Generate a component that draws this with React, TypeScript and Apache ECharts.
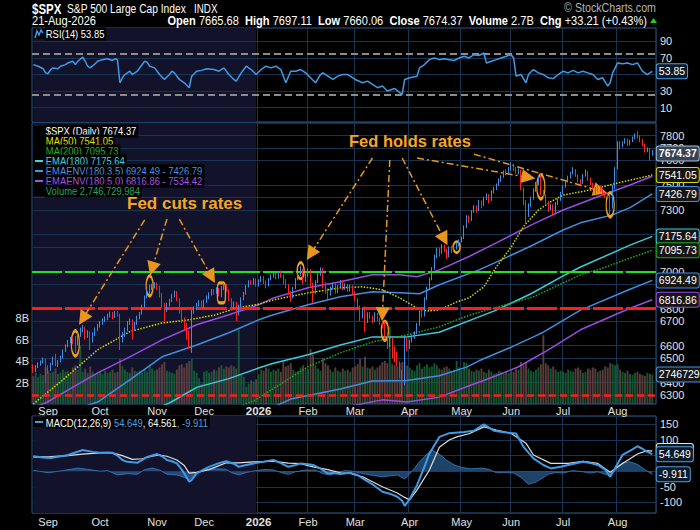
import React, { useEffect, useRef } from 'react';
import * as echarts from 'echarts';

const SANS = "'Liberation Sans',Arial,sans-serif";
const SQUEEZE = 0.82;
const GRID = '#1a3350';
const BORDER = '#2c5a88';
const LBL = '#e0e0e0';
const SHADE = '#12122b';
const ORANGE = '#f5a623';
const AX_FONT = 11;
const TAG_FONT = 10.5;

// ---------- categories ----------
const holidays = ['2025-09-01', '2025-11-27', '2025-12-25', '2026-01-01', '2026-01-19', '2026-02-16', '2026-04-03', '2026-05-25', '2026-06-19', '2026-07-03'];
const monthNames = ['Jan', 'Feb', 'Mar', 'Apr', 'May', 'Jun', 'Jul', 'Aug', 'Sep', 'Oct', 'Nov', 'Dec'];

function buildDays(): string[] {
  const out: string[] = [];
  const d = new Date(Date.UTC(2025, 7, 22));
  const end = Date.UTC(2026, 7, 21);
  while (d.getTime() <= end) {
    const wd = d.getUTCDay();
    const s = d.toISOString().slice(0, 10);
    if (wd !== 0 && wd !== 6 && holidays.indexOf(s) < 0) out.push(s);
    d.setUTCDate(d.getUTCDate() + 1);
  }
  return out;
}

// ---------- candles [open, close, low, high] ----------
const candlesAug25 = [[6460,6440,6425,6470],[6440,6455,6430,6465],[6455,6470,6450,6480],[6470,6482,6462,6490],[6480,6498,6475,6505],[6495,6455,6370,6500]];
const candlesSep25 = [[6450,6440,6420,6465],[6440,6470,6435,6478],[6475,6500,6465,6510],[6510,6470,6460,6525],[6470,6480,6455,6492],[6485,6505,6480,6515],[6505,6540,6500,6548],[6540,6565,6535,6575],[6565,6590,6560,6598],[6590,6605,6580,6615],[6605,6585,6575,6615],[6585,6570,6530,6620],[6575,6625,6570,6635],[6625,6655,6615,6665],[6655,6665,6640,6680],[6665,6620,6600,6670],[6620,6640,6610,6650],[6640,6590,6545,6645],[6590,6630,6585,6640],[6630,6655,6620,6665],[6655,6675,6645,6685]];
const candlesOct25 = [[6675,6690,6665,6700],[6690,6705,6680,6715],[6705,6715,6695,6725],[6715,6730,6705,6740],[6730,6745,6720,6752],[6745,6722,6710,6750],[6722,6748,6718,6756],[6748,6735,6725,6755],[6735,6600,6545,6740],[6600,6625,6585,6640],[6625,6655,6615,6665],[6655,6690,6645,6700],[6690,6705,6680,6715],[6705,6660,6600,6710],[6660,6685,6650,6695],[6685,6720,6680,6730],[6720,6742,6710,6750],[6742,6780,6735,6790],[6780,6830,6775,6840],[6830,6868,6825,6878],[6868,6882,6850,6900],[6882,6890,6870,6905],[6890,6905,6880,6915]];
const candlesNov25 = [[6905,6890,6870,6912],[6890,6850,6830,6895],[6850,6790,6770,6855],[6790,6760,6700,6800],[6760,6790,6750,6800],[6790,6812,6780,6822],[6812,6840,6805,6850],[6840,6858,6830,6868],[6858,6820,6810,6865],[6820,6760,6740,6825],[6760,6700,6690,6770],[6700,6680,6650,6720],[6680,6640,6600,6690],[6640,6600,6550,6650],[6580,6750,6530,6760],[6750,6770,6740,6780],[6770,6790,6760,6800],[6790,6805,6780,6815],[6805,6775,6765,6812]];
const candlesDec25 = [[6775,6810,6770,6818],[6810,6830,6800,6840],[6830,6850,6820,6858],[6850,6868,6840,6876],[6868,6858,6845,6875],[6858,6878,6850,6886],[6878,6848,6835,6882],[6848,6880,6830,6892],[6880,6900,6870,6910],[6900,6870,6860,6905],[6870,6820,6810,6875],[6820,6780,6770,6825],[6780,6800,6765,6808],[6800,6740,6700,6805],[6740,6780,6730,6790],[6780,6822,6775,6830],[6822,6852,6815,6860],[6852,6890,6845,6898],[6890,6918,6885,6925],[6918,6908,6900,6926],[6908,6930,6900,6938],[6930,6900,6890,6935]];
const candlesJan26 = [[6900,6922,6890,6930],[6922,6942,6915,6950],[6942,6918,6905,6948],[6918,6898,6880,6925],[6898,6930,6890,6938],[6930,6950,6925,6958],[6950,6962,6940,6972],[6962,6940,6930,6968],[6940,6970,6935,6978],[6970,6952,6940,6980],[6952,6928,6900,6958],[6928,6900,6880,6932],[6900,6860,6845,6905],[6860,6830,6805,6865],[6830,6880,6825,6888],[6880,6930,6875,6938],[6930,6960,6925,6970],[6960,6985,6950,7005],[6985,6925,6905,6990],[6925,6952,6915,6962]];
const candlesFeb26 = [[6952,6982,6945,6992],[6982,6905,6890,6988],[6905,6860,6800,6910],[6860,6918,6850,6925],[6918,6958,6910,6965],[6958,6990,6950,6998],[6990,6905,6880,6995],[6905,6872,6850,6915],[6872,6850,6820,6880],[6850,6882,6840,6890],[6882,6902,6875,6912],[6902,6862,6850,6908],[6862,6890,6855,6898],[6890,6920,6885,6928],[6920,6880,6870,6925],[6880,6900,6872,6908],[6900,6870,6860,6905],[6870,6892,6862,6900],[6892,6860,6845,6898]];
const candlesMar26 = [[6860,6820,6810,6865],[6820,6780,6770,6825],[6780,6720,6700,6785],[6720,6760,6715,6768],[6760,6700,6640,6780],[6700,6740,6690,6748],[6740,6722,6710,6750],[6722,6702,6690,6730],[6702,6740,6695,6748],[6740,6712,6700,6745],[6712,6692,6680,6720],[6692,6680,6660,6700],[6690,6630,6610,6698],[6630,6580,6550,6640],[6580,6605,6560,6615],[6605,6560,6500,6610],[6560,6520,6480,6565],[6530,6480,6460,6535],[6480,6430,6400,6485],[6430,6340,6300,6440],[6370,6600,6360,6610],[6600,6560,6540,6615]];
const candlesApr26 = [[6560,6592,6550,6600],[6592,6620,6585,6628],[6620,6635,6605,6645],[6635,6680,6630,6690],[6680,6750,6675,6758],[6750,6730,6720,6762],[6730,6820,6725,6830],[6820,6880,6815,6890],[6880,6930,6870,6940],[6930,6990,6925,7000],[6990,7060,6985,7070],[7060,7100,7050,7110],[7100,7080,7060,7112],[7080,7120,7075,7130],[7120,7100,7085,7128],[7100,7060,7045,7105],[7060,7110,7055,7118],[7110,7090,7080,7120],[7090,7110,7085,7118],[7110,7125,7100,7140],[7125,7150,7118,7158]];
const candlesMay26 = [[7150,7165,7140,7175],[7165,7230,7160,7240],[7230,7290,7225,7300],[7290,7270,7255,7298],[7270,7320,7265,7330],[7320,7350,7315,7360],[7350,7330,7315,7358],[7330,7380,7325,7390],[7380,7360,7340,7388],[7360,7400,7355,7410],[7400,7420,7390,7430],[7420,7390,7370,7425],[7390,7440,7385,7450],[7440,7460,7430,7470],[7460,7482,7450,7490],[7482,7510,7475,7520],[7510,7530,7500,7540],[7530,7562,7525,7570],[7562,7550,7540,7575],[7550,7580,7545,7590]];
const candlesJun26 = [[7580,7600,7570,7618],[7600,7580,7565,7610],[7580,7562,7550,7590],[7562,7572,7545,7582],[7570,7460,7450,7575],[7460,7380,7360,7465],[7380,7300,7250,7390],[7300,7360,7290,7370],[7360,7400,7350,7410],[7400,7450,7392,7460],[7450,7490,7440,7500],[7490,7530,7480,7540],[7530,7440,7420,7545],[7440,7420,7400,7450],[7420,7380,7360,7425],[7380,7340,7320,7385],[7340,7360,7330,7368],[7360,7320,7300,7365],[7320,7370,7315,7378],[7370,7392,7360,7400],[7392,7430,7385,7440]];
const candlesJul26 = [[7430,7470,7425,7478],[7470,7500,7465,7508],[7500,7530,7495,7538],[7530,7552,7520,7560],[7552,7572,7545,7590],[7572,7540,7530,7578],[7540,7510,7495,7545],[7510,7492,7480,7518],[7492,7540,7488,7548],[7540,7562,7532,7575],[7562,7520,7505,7568],[7520,7490,7480,7526],[7490,7462,7450,7495],[7462,7440,7425,7468],[7440,7470,7435,7478],[7470,7450,7440,7476],[7450,7430,7420,7455],[7430,7420,7405,7438],[7420,7410,7395,7430],[7420,7340,7300,7425],[7350,7470,7340,7480],[7460,7580,7455,7590]];
const candlesAug26 = [[7580,7740,7575,7750],[7740,7720,7700,7752],[7720,7742,7712,7750],[7742,7762,7735,7770],[7762,7730,7720,7768],[7730,7752,7725,7760],[7752,7772,7745,7780],[7772,7792,7765,7800],[7792,7780,7770,7815],[7780,7760,7745,7788],[7760,7730,7720,7765],[7730,7690,7680,7735],[7690,7702,7682,7712],[7702,7641.16,7630,7708],[7665.68,7674.37,7660.06,7697.11]];

// ---------- volume (billions) ----------
const volAug25 = [2.6,2.9,2.5,2.8,2.7,3.4];
const volSep25 = [3.1,2.9,3.0,3.3,2.8,2.9,3.2,3.0,3.1,2.9,3.4,3.6,3.2,5.4,3.0,3.3,2.9,3.5,3.0,2.8,2.9];
const volOct25 = [3.0,2.8,3.1,2.9,3.0,3.2,2.9,3.0,4.2,3.5,3.2,3.0,2.9,3.4,3.1,3.0,3.1,2.9,3.2,3.0,3.6,3.3,3.1];
const volNov25 = [3.2,3.4,3.7,3.9,3.1,3.0,2.9,2.8,3.2,3.6,3.7,3.4,3.8,4.0,4.2,3.1,2.9,2.4,1.9];
const volDec25 = [3.0,3.1,2.9,3.0,3.2,3.1,3.4,3.6,3.3,3.5,3.4,3.6,3.5,3.3,6.9,2.7,2.5,1.6,1.9,2.2,2.1,2.3];
const volJan26 = [2.8,3.2,3.1,3.4,3.3,3.0,3.2,3.1,3.3,3.0,4.1,3.5,3.6,3.8,3.2,3.0,3.1,3.4,3.6,3.2];
const volFeb26 = [3.3,5.1,4.6,3.6,3.3,3.1,4.3,3.8,3.6,3.2,3.0,3.4,3.1,3.0,3.3,3.1,3.2,3.0,3.4];
const volMar26 = [3.5,3.7,4.2,3.5,4.4,3.4,3.3,3.5,3.2,3.4,3.6,3.9,4.0,3.8,7.2,3.7,3.6,3.5,3.8,3.9,3.9,3.6];
const volApr26 = [3.4,3.2,3.1,3.6,3.8,3.3,3.5,3.7,3.4,3.5,3.8,3.6,3.3,3.2,3.4,3.5,3.3,3.1,3.2,4.0,3.4];
const volMay26 = [3.2,3.9,3.8,3.3,3.1,3.0,3.2,3.1,3.3,3.0,2.9,3.2,3.0,2.8,2.9,3.1,3.0,2.8,3.0,2.9];
const volJun26 = [3.1,3.0,3.3,3.2,3.9,3.6,3.8,3.3,3.1,3.0,3.2,3.4,3.7,6.4,3.8,3.6,3.3,3.5,3.2,3.0,3.1];
const volJul26 = [3.0,2.9,3.2,3.1,3.0,3.3,3.4,3.2,2.9,3.0,3.3,3.2,3.4,3.3,3.0,3.1,3.2,3.5,3.4,3.8,3.7,3.6];
const volAug26 = [3.7,3.2,3.0,2.9,3.1,2.8,2.7,2.9,3.0,2.8,2.7,2.6,2.9,2.8,2.746729984];

// ---------- overlays: [dayIndex, price] ----------
const ma50 = [[0,6265],[12,6389],[26,6546],[39,6643],[52,6690],[63,6707],[74,6735],[82,6772],[90,6789],[97,6816],[111,6855],[124,6883],[133,6889],[141,6872],[148,6827],[155,6772],[159,6755],[164,6761],[171,6805],[176,6827],[182,6889],[187,7000],[193,7114],[198,7233],[204,7331],[209,7380],[214,7420],[225,7451],[236,7493],[241,7510],[250,7541.05]];
const ma200 = [[0,5900],[40,6060],[89,6280],[111,6457],[124,6530],[137,6588],[151,6626],[164,6669],[171,6707],[178,6740],[202,6833],[222,6962],[228,6984],[241,7051],[250,7095.73]];
const ema180 = [[0,5960],[26,6110],[39,6195],[55,6270],[66,6350],[79,6395],[91,6450],[97,6475],[111,6520],[124,6572],[137,6615],[151,6615],[164,6640],[180,6723],[187,6760],[201,6850],[214,6950],[221,7000],[241,7125],[250,7175.64]];
const env35Upper = [[0,6170],[26,6275],[39,6389],[52,6509],[66,6572],[79,6637],[83,6660],[91,6707],[97,6735],[111,6789],[124,6833],[137,6861],[148,6855],[156,6850],[164,6900],[180,6984],[187,7028],[201,7120],[214,7213],[221,7255],[234,7302],[241,7345],[250,7426.79]];
const env35Lower = [[0,5750],[83,6170],[104,6290],[124,6342],[137,6383],[151,6385],[164,6410],[175,6455],[180,6488],[193,6560],[202,6615],[206,6640],[221,6760],[241,6875],[250,6924.49]];
const env50Upper = [[0,6250],[5,6270],[26,6425],[39,6509],[52,6599],[66,6680],[79,6735],[91,6789],[97,6827],[111,6883],[124,6917],[137,6956],[148,6956],[155,6945],[164,6984],[176,7060],[187,7138],[201,7242],[214,7331],[228,7410],[241,7481],[250,7534.42]];
const env50Lower = [[0,5660],[91,6130],[124,6245],[141,6286],[151,6275],[164,6300],[175,6353],[187,6410],[196,6457],[208,6546],[221,6653],[241,6770],[250,6816.86]];

// ---------- RSI(14) ----------
const rsi14 = [[0,62],[2,60],[4,57],[5,52],[6,51],[7,56],[8,58],[10,57],[11,60],[13,62],[14,64],[16,66],[17,62],[18,66],[20,71],[21,66],[22,60],[23,58],[25,63],[26,66],[28,68],[30,69],[32,67],[33,69],[34,68],[35,40],[36,46],[37,50],[39,54],[40,50],[42,54],[45,66],[46,65],[47,60],[49,58],[51,50],[53,44],[55,50],[56,54],[57,52],[59,44],[61,40],[63,34],[64,48],[66,54],[68,55],[70,57],[73,56],[75,54],[77,58],[79,50],[81,44],[82,42],[84,52],[86,60],[88,56],[90,50],[92,56],[94,60],[96,58],[98,60],[100,56],[102,40],[104,54],[106,54],[108,56],[110,52],[112,46],[114,40],[116,50],[117,52],[119,48],[121,44],[123,48],[125,50],[127,50],[128,48],[130,44],[133,40],[135,42],[137,38],[139,34],[141,36],[143,30],[146,33],[148,28],[149,26],[150,44],[152,46],[155,48],[156,58],[158,62],[160,68],[162,70],[164,68],[166,69],[168,68],[170,67],[172,70],[174,72],[176,70],[178,74],[180,73],[182,76],[183,64],[185,66],[187,68],[189,70],[191,72],[193,74],[194,70],[195,48],[197,50],[199,40],[200,50],[202,56],[204,52],[206,50],[208,46],[210,45],[212,50],[214,54],[216,52],[218,55],[220,52],[222,54],[224,52],[226,50],[228,44],[230,46],[232,36],[233,40],[234,52],[236,64],[238,63],[240,64],[242,62],[244,64],[246,54],[248,50],[249,52],[250,53.85]];

// ---------- MACD(12,26,9) ----------
const macdLine = [[0,48],[4,44],[7,42],[10,46],[14,52],[17,60],[20,68],[24,62],[27,59],[30,60],[32,59],[34,50],[36,36],[38,30],[42,27],[44,36],[46,46],[50,55],[52,48],[54,36],[56,32],[58,25],[60,5],[62,-20],[63,-34],[64,-28],[66,-7],[68,2],[71,14],[75,26],[78,32],[81,24],[83,14],[86,20],[89,25],[93,30],[97,36],[100,26],[103,14],[106,20],[108,25],[111,22],[113,20],[116,8],[119,-7],[121,-6],[124,-9],[128,-5],[131,-12],[133,-23],[137,-42],[141,-66],[144,-72],[147,-82],[149,-95],[150,-111],[152,-90],[155,-45],[158,15],[160,57],[164,110],[168,122],[174,126],[178,130],[182,150],[186,130],[191,124],[195,121],[198,78],[202,41],[206,20],[209,9],[213,14],[216,20],[222,30],[225,26],[228,20],[231,5],[233,-18],[235,10],[238,52],[242,70],[244,80],[246,72],[248,62],[250,54.649]];
const macdSignal = [[0,45],[7,47],[14,50],[20,55],[27,59],[32,59],[36,50],[40,38],[44,40],[48,48],[51,52],[54,48],[58,36],[61,18],[63,-6],[66,-4],[71,5],[75,18],[78,27],[83,27],[89,30],[97,32],[103,26],[108,24],[113,14],[119,5],[124,-5],[128,-7],[133,-18],[141,-50],[147,-70],[150,-84],[152,-92],[155,-60],[160,4],[164,77],[168,100],[171,110],[176,120],[182,142],[187,132],[193,121],[199,90],[202,52],[209,25],[216,25],[222,32],[228,25],[233,-3],[238,25],[244,55],[248,66],[250,64.561]];
const macdHist = [[0,3],[6,-5],[12,2],[18,10],[22,6],[27,0],[30,2],[34,-12],[38,-8],[42,-10],[45,5],[48,10],[51,4],[54,-10],[58,-12],[61,-20],[63,-28],[65,-10],[67,-4],[70,6],[74,8],[78,6],[80,-5],[83,-12],[86,-4],[90,2],[94,6],[97,4],[100,-4],[103,-10],[106,-2],[110,4],[114,4],[117,-8],[120,-12],[123,-4],[126,2],[129,0],[132,-6],[136,-12],[141,-18],[144,-15],[147,-12],[150,-25],[153,0],[156,30],[159,55],[161,68],[164,55],[167,35],[170,20],[173,12],[177,8],[181,10],[184,6],[187,-5],[190,-4],[194,-6],[197,-20],[200,-42],[203,-35],[206,-20],[208,-10],[211,-4],[214,-6],[218,2],[222,-2],[225,-6],[228,-2],[231,-10],[233,-14],[235,10],[238,28],[241,30],[244,22],[247,5],[250,-9.911]];

// ---------- axis ticks / levels ----------
const priceTicks = [6300,6400,6500,6600,6700,6800,6900,7000,7100,7200,7300,7400,7500,7600,7700,7800];
const rsiTicks = [10,30,50,70,90];
const rsiBands = [75,25];
const userLevels = [7000,6800,6337];

// ---------- annotations ----------
const fedDays = [17,47,76,108,142,171,205,233];
const fedPrices = [6580,6894,6855,6979,6648,7114,7469,7361];
const arrowFrom = [[45,7272],[54,7277],[59,7277],[137,7646],[144,7634],[149,7646],[155,7646],[178,7670]];
const arrowTo = [[20,6713],[48,6990],[72,6945],[112,7074],[141,6737],[166,7160],[200,7527],[229,7445]];

function buildOption(): any {
  const days = buildDays();
  const cats = [...days, ''];
  const monthStart = days.map((d, i) => i > 0 && d.slice(5, 7) !== days[i - 1].slice(5, 7));
  const isTick = (i: number) => !!monthStart[i];
  const last2025 = days.filter((d) => d < '2026').length - 1;
  const candles = [...candlesAug25, ...candlesSep25, ...candlesOct25, ...candlesNov25, ...candlesDec25, ...candlesJan26, ...candlesFeb26, ...candlesMar26, ...candlesApr26, ...candlesMay26, ...candlesJun26, ...candlesJul26, ...candlesAug26];
  const volumes = [...volAug25, ...volSep25, ...volOct25, ...volNov25, ...volDec25, ...volJan26, ...volFeb26, ...volMar26, ...volApr26, ...volMay26, ...volJun26, ...volJul26, ...volAug26];
  const last = candles.length - 1;
  const lastDay = days[last];
  const L = Math.log;
  const lastOf = (a: number[][]) => a[a.length - 1][1];
  const closeLast = candles[last][1];
  const volLast = volumes[last];

  const tag = (y: number, text: string, border: string, bold = false, bg = '#161616') => ({
    coord: [lastDay, y],
    symbol: 'rect',
    symbolSize: 1,
    itemStyle: { color: 'rgba(0,0,0,0)' },
    label: {
      show: true, position: 'right', distance: 4, formatter: text, color: '#ffffff',
      fontSize: TAG_FONT, fontWeight: bold ? 'bold' : 'normal', fontFamily: SANS,
      backgroundColor: bg, borderColor: border, borderWidth: 1, borderRadius: 2, padding: [2, 2, 1, 2],
    },
  });

  const fmtMonth = (value: string) => {
    if (!value) return '';
    const m = +value.slice(5, 7);
    return m === 1 ? '{b|' + value.slice(0, 4) + '}' : monthNames[m - 1];
  };

  const xAxisFor = (gi: number, show: boolean, margin: number) => ({
    type: 'category', gridIndex: gi, data: cats, boundaryGap: true,
    axisLine: { show: false }, axisTick: { show: false },
    axisLabel: {
      show, interval: (i: number) => isTick(i), formatter: fmtMonth, color: LBL, fontSize: AX_FONT,
      fontFamily: SANS, margin,
      rich: { b: { fontWeight: 'bold', color: LBL, fontSize: AX_FONT + 0.5, fontFamily: SANS } },
    },
    splitLine: { show: true, interval: (i: number) => isTick(i), lineStyle: { color: GRID, width: 1 } },
  });

  const gridBox = (top: number, height: number) => ({
    left: 32, right: 44, top, height, show: true, backgroundColor: '#000', borderColor: BORDER, borderWidth: 1,
    containLabel: false, outerBoundsMode: 'none',
  });

  const shade = { silent: true, itemStyle: { color: SHADE }, data: [[{ xAxis: days[0] }, { xAxis: days[last2025] }]] };

  const pricePts = (a: number[][]) => a.map(([i, v]) => [days[i], L(v)]);
  const plainPts = (a: number[][]) => a.map(([i, v]) => [days[i], v]);

  const overlay = (data: number[][], color: string, width: number, type: any, tagBorder?: string) => ({
    type: 'line', xAxisIndex: 1, yAxisIndex: 1, data: pricePts(data), symbol: 'none', silent: true, z: 4,
    lineStyle: { color, width, type },
    markPoint: tagBorder ? { silent: true, data: [tag(L(lastOf(data)), lastOf(data).toFixed(2), tagBorder)] } : undefined,
  });

  const tickLine = (y: number, text: string) => ({
    yAxis: y,
    lineStyle: { color: GRID, width: 1, type: 'solid' },
    label: { show: true, position: 'end', formatter: text, color: LBL, fontSize: AX_FONT, fontFamily: SANS, distance: 4 },
  });

  const closes = candles.map((c, i) => [days[i], L(c[1])]);

  const fedMarkSize = [[8, 25], [7, 20], [8, 20], [7, 16], [7, 19], [7, 11], [8, 24], [8, 24]];

  const series: any[] = [
    // RSI panel
    {
      type: 'line', xAxisIndex: 0, yAxisIndex: 0, data: plainPts(rsi14), symbol: 'none', silent: true, z: 3,
      lineStyle: { color: '#3f9be6', width: 1.5 },
      markArea: shade,
      markLine: {
        silent: true, symbol: 'none', z: 1,
        data: [
          ...rsiTicks.map((v) => tickLine(v, String(v))),
          ...rsiBands.map((v) => ({ yAxis: v, lineStyle: { color: '#8c8c8c', width: 2, type: [7, 4] }, label: { show: false } })),
        ],
      },
      markPoint: { silent: true, data: [tag(lastOf(rsi14), lastOf(rsi14).toFixed(2), '#4aa0e6', false, '#0c1a28')] },
    },
    // main panel: grid ticks and shading
    {
      type: 'line', xAxisIndex: 1, yAxisIndex: 1, data: closes, symbol: 'none', silent: true, z: 1,
      lineStyle: { opacity: 0 },
      markArea: shade,
      markLine: {
        silent: true, symbol: 'none', z: 1,
        data: priceTicks.map((v) => tickLine(L(v), String(v))),
      },
    },
    // volume
    {
      type: 'bar', xAxisIndex: 1, yAxisIndex: 2, barWidth: '78%', silent: true, z: 2,
      data: volumes.map((v, i) => ({
        value: [days[i], v],
        itemStyle: {
          color: candles[i][1] >= candles[i][0] ? 'rgba(22,100,58,0.85)' : 'rgba(98,66,66,0.9)',
        },
      })),
      markPoint: { silent: true, data: [tag(volLast, String(Math.round(volLast * 1e9)), '#4a90e0')] },
    },
    // user horizontal levels
    {
      type: 'line', xAxisIndex: 1, yAxisIndex: 1, data: closes, symbol: 'none', silent: true, z: 3,
      lineStyle: { opacity: 0 },
      markLine: {
        silent: true, symbol: 'none',
        data: [
          { yAxis: L(userLevels[0]), lineStyle: { color: '#22e022', width: 2, type: [30, 3] }, label: { show: false } },
          { yAxis: L(userLevels[1]), lineStyle: { color: '#ff1c1c', width: 3, type: [30, 3] }, label: { show: false } },
          { yAxis: L(userLevels[2]), lineStyle: { color: '#ff1c1c', width: 2.5, type: [7, 4] }, label: { show: false } },
        ],
      },
    },
    overlay(env50Lower, '#9a4be0', 1.5, 'solid', '#9a4be0'),
    overlay(env50Upper, '#9a4be0', 1.5, 'solid'),
    overlay(env35Lower, '#3f8ee0', 1.5, 'solid', '#3f8ee0'),
    overlay(env35Upper, '#3f8ee0', 1.5, 'solid', '#3f8ee0'),
    overlay(ema180, '#3ccbd8', 1.5, 'solid', '#3ccbd8'),
    overlay(ma200, '#1faa1f', 1.5, 'dotted', '#1faa1f'),
    overlay(ma50, '#d8d800', 1.5, 'dotted', '#d8d800'),
    // candles
    {
      type: 'candlestick', xAxisIndex: 1, yAxisIndex: 1, silent: true, z: 5, barMaxWidth: 3,
      data: candles.map((c) => c.map((v) => L(v))),
      itemStyle: { color: '#050505', color0: '#ff2222', borderColor: '#3d8fe6', borderColor0: '#ff2222', borderWidth: 1 },
    },
    // annotations + close tag
    {
      type: 'line', xAxisIndex: 1, yAxisIndex: 1, data: closes, symbol: 'none', silent: true, z: 6,
      lineStyle: { opacity: 0 },
      markLine: {
        silent: true, symbol: ['none', 'triangle'], symbolSize: 14,
        label: { show: false },
        lineStyle: { color: '#e8961e', width: 1.5, type: [7, 3, 2, 3] },
        data: arrowFrom.map((f, k) => [
          { coord: [days[f[0]], L(f[1])] },
          { coord: [days[arrowTo[k][0]], L(arrowTo[k][1])], itemStyle: { color: ORANGE } },
        ]),
      },
      markPoint: {
        silent: true,
        data: [
          ...fedDays.map((d, k) => ({
            coord: [days[d], L(fedPrices[k])],
            symbol: k === 2 ? 'roundRect' : 'circle',
            symbolSize: fedMarkSize[k],
            itemStyle: { color: 'rgba(0,0,0,0)', borderColor: '#f0a020', borderWidth: 2 },
            label: { show: false },
          })),
          tag(L(closeLast), closeLast.toFixed(2), '#9fc3e6', true, '#39424e'),
        ],
      },
    },
    // MACD panel
    {
      type: 'line', xAxisIndex: 2, yAxisIndex: 3, data: plainPts(macdHist), symbol: 'none', silent: true, z: 2,
      lineStyle: { color: '#3a7cc0', width: 0.8 },
      areaStyle: { color: 'rgba(50,112,176,0.85)' },
      markArea: shade,
      markPoint: { silent: true, data: [tag(lastOf(macdHist), lastOf(macdHist).toFixed(3), '#4aa0e6', false, '#0c1a28')] },
    },
    {
      type: 'line', xAxisIndex: 2, yAxisIndex: 3, data: plainPts(macdSignal), symbol: 'none', silent: true, z: 3,
      lineStyle: { color: '#dddddd', width: 1.2 },
      markPoint: { silent: true, data: [tag(lastOf(macdSignal), lastOf(macdSignal).toFixed(3), '#e0e0e0')] },
    },
    {
      type: 'line', xAxisIndex: 2, yAxisIndex: 3, data: plainPts(macdLine), symbol: 'none', silent: true, z: 4,
      lineStyle: { color: '#3f9be6', width: 2 },
      markPoint: { silent: true, data: [tag(lastOf(macdLine), lastOf(macdLine).toFixed(3), '#4aa0e6', false, '#0c1a28')] },
    },
  ];

  // ---------- graphic texts (horizontally squeezed to imitate the narrow face) ----------
  const txt = (x: number, y: number, text: string, fill: string, size: number, extra: any = {}) => ({
    type: 'text', x, y, scaleX: SQUEEZE, silent: true, z: 100,
    style: {
      text, fill, fontSize: size, fontFamily: SANS, textVerticalAlign: 'middle', verticalAlign: 'middle',
      textAlign: extra.align || 'left', align: extra.align || 'left', ...extra.style,
    },
  });
  const legendTxt = (y: number, text: string, fill: string) =>
    txt(45, y, text, fill, 11.5, { style: { backgroundColor: '#000', padding: [1, 2, 0, 1] } });
  const legBox = (y: number) => ({ type: 'rect', silent: true, z: 99, shape: { x: 33, y: y - 5, width: 12, height: 10 }, style: { fill: '#000' } });
  const icoLine = (y: number, color: string) => ({ type: 'line', silent: true, z: 101, shape: { x1: 35, y1: y, x2: 43, y2: y }, style: { stroke: color, lineWidth: 2 } });
  const icoDots = (y: number, color: string) => ({
    type: 'group', silent: true, z: 101,
    children: [
      { type: 'rect', shape: { x: 36, y: y - 1, width: 2, height: 2 }, style: { fill: color } },
      { type: 'rect', shape: { x: 40, y: y - 1, width: 2, height: 2 }, style: { fill: color } },
    ],
  });

  const volText = Math.round(volLast * 1e9).toLocaleString('en-US');
  const graphic: any[] = [
    txt(32, 9, '$SPX', '#ffffff', 14, { style: { fontWeight: 'bold' } }),
    txt(67, 9, 'S&P 500 Large Cap Index', '#ffffff', 12.5),
    txt(194, 9, 'INDX', '#ffffff', 12),
    txt(32, 21, '21-Aug-2026', '#ffffff', 13.5),
    txt(647, 21, '{b|Open} 7665.68  {b|High} 7697.11  {b|Low} 7660.06  {b|Close} 7674.37  {b|Volume} 2.7B  {b|Chg} +33.21 (+0.43%)', '#ffffff', 13.5, {
      align: 'right',
      style: { rich: { b: { fontWeight: 'bold', fontSize: 13.5, fontFamily: SANS, fill: '#ffffff', color: '#ffffff' } } },
    }),
    { type: 'polygon', silent: true, z: 100, shape: { points: [[650, 23], [657, 23], [653.5, 18]] }, style: { fill: '#22cc22' } },
    txt(656, 8, '\u00A9 StockCharts.com', '#b4b4b4', 13, { align: 'right' }),

    // RSI legend
    legBox(34),
    { type: 'polyline', silent: true, z: 101, shape: { points: [[35, 38], [37, 31], [39, 35], [41, 30], [43, 33]] }, style: { stroke: '#3f9be6', lineWidth: 1.5, fill: 'none' } },
    legendTxt(34, 'RSI(14) ' + lastOf(rsi14).toFixed(2), '#ffffff'),

    // main legend
    legBox(131),
    { type: 'group', silent: true, z: 101, children: [
      { type: 'rect', shape: { x: 35, y: 128, width: 2, height: 6 }, style: { fill: '#3d8fe6' } },
      { type: 'rect', shape: { x: 38, y: 127, width: 2, height: 6 }, style: { fill: '#3d8fe6' } },
      { type: 'rect', shape: { x: 41, y: 129, width: 2, height: 6 }, style: { fill: '#3d8fe6' } },
    ] },
    legendTxt(131, '$SPX (Daily) ' + closeLast.toFixed(2), '#ffffff'),
    legBox(141), icoDots(141, '#e0e000'),
    legendTxt(141, 'MA(50) ' + lastOf(ma50).toFixed(2), '#e0e000'),
    legBox(151), icoDots(151, '#25b025'),
    legendTxt(151, 'MA(200) ' + lastOf(ma200).toFixed(2), '#25b025'),
    legBox(161), icoLine(161, '#45d0e0'),
    legendTxt(161, 'EMA(180) ' + lastOf(ema180).toFixed(2), '#45d0e0'),
    legBox(171), icoLine(171, '#4a90e0'),
    legendTxt(171, 'EMAENV(180,3.5) ' + lastOf(env35Lower).toFixed(2) + ' - ' + lastOf(env35Upper).toFixed(2), '#4a90e0'),
    legBox(181), icoLine(181, '#a055e8'),
    legendTxt(181, 'EMAENV(180,5.0) ' + lastOf(env50Lower).toFixed(2) + ' - ' + lastOf(env50Upper).toFixed(2), '#a055e8'),
    legBox(191),
    { type: 'group', silent: true, z: 101, children: [
      { type: 'rect', shape: { x: 35, y: 189, width: 2, height: 5 }, style: { fill: '#25a060' } },
      { type: 'rect', shape: { x: 38, y: 186, width: 2, height: 8 }, style: { fill: '#25a060' } },
      { type: 'rect', shape: { x: 41, y: 188, width: 2, height: 6 }, style: { fill: '#25a060' } },
    ] },
    legendTxt(191, 'Volume ' + volText, '#25a060'),

    // MACD legend
    legBox(422), icoLine(422, '#3f9be6'),
    txt(45, 422, '{w|MACD(12,26,9)} {c|' + lastOf(macdLine).toFixed(3) + '}{w|, ' + lastOf(macdSignal).toFixed(3) + '}{c|, ' + lastOf(macdHist).toFixed(3) + '}', '#ffffff', 11.5, {
      style: {
        backgroundColor: '#000', padding: [1, 2, 0, 1],
        rich: {
          w: { fill: '#ffffff', color: '#ffffff', fontSize: 11.5, fontFamily: SANS },
          c: { fill: '#4aa0e6', color: '#4aa0e6', fontSize: 11.5, fontFamily: SANS },
        },
      },
    }),

    // annotation titles
    { type: 'text', x: 127, y: 203, silent: true, z: 100, style: { text: 'Fed cuts rates', fill: ORANGE, fontSize: 17, fontWeight: 'bold', fontFamily: SANS, textVerticalAlign: 'middle', verticalAlign: 'middle' } },
    { type: 'text', x: 349, y: 141, silent: true, z: 100, style: { text: 'Fed holds rates', fill: ORANGE, fontSize: 16.5, fontWeight: 'bold', fontFamily: SANS, textVerticalAlign: 'middle', verticalAlign: 'middle' } },
  ];

  return {
    animation: false,
    backgroundColor: '#000000',
    textStyle: { fontFamily: SANS },
    grid: [gridBox(28, 94), gridBox(123, 281), gridBox(416, 97)],
    xAxis: [xAxisFor(0, false, 0), xAxisFor(1, true, 1), xAxisFor(2, true, 3)],
    yAxis: [
      { type: 'value', gridIndex: 0, min: -7.5, max: 106.3, axisLabel: { show: false }, splitLine: { show: false }, axisLine: { show: false }, axisTick: { show: false } },
      { type: 'value', gridIndex: 1, min: Math.log(6265), max: Math.log(7866), axisLabel: { show: false }, splitLine: { show: false }, axisLine: { show: false }, axisTick: { show: false } },
      {
        type: 'value', gridIndex: 1, position: 'left', min: 0, max: 26.14, interval: 2,
        axisLabel: { formatter: (v: number) => (v > 0 && v <= 8 ? v + 'B' : ''), color: LBL, fontSize: AX_FONT, fontFamily: SANS, margin: 3 },
        splitLine: { show: false }, axisLine: { show: false }, axisTick: { show: false },
      },
      {
        type: 'value', gridIndex: 2, position: 'right', min: -134, max: 177,
        axisLabel: { color: LBL, fontSize: AX_FONT, fontFamily: SANS, margin: 4, showMinLabel: false, showMaxLabel: false },
        splitLine: { show: true, lineStyle: { color: GRID } }, axisLine: { show: false }, axisTick: { show: false },
      },
    ],
    series,
    graphic,
  };
}

export default function App() {
  const ref = useRef<HTMLDivElement>(null);
  useEffect(() => {
    document.body.style.margin = '0';
    document.body.style.background = '#000';
    const chart = echarts.init(ref.current as HTMLDivElement, null, { renderer: 'svg', width: 700, height: 530 });
    chart.setOption(buildOption());
    return () => chart.dispose();
  }, []);
  return <div ref={ref} style={{ width: 700, height: 530, background: '#000' }} />;
}
